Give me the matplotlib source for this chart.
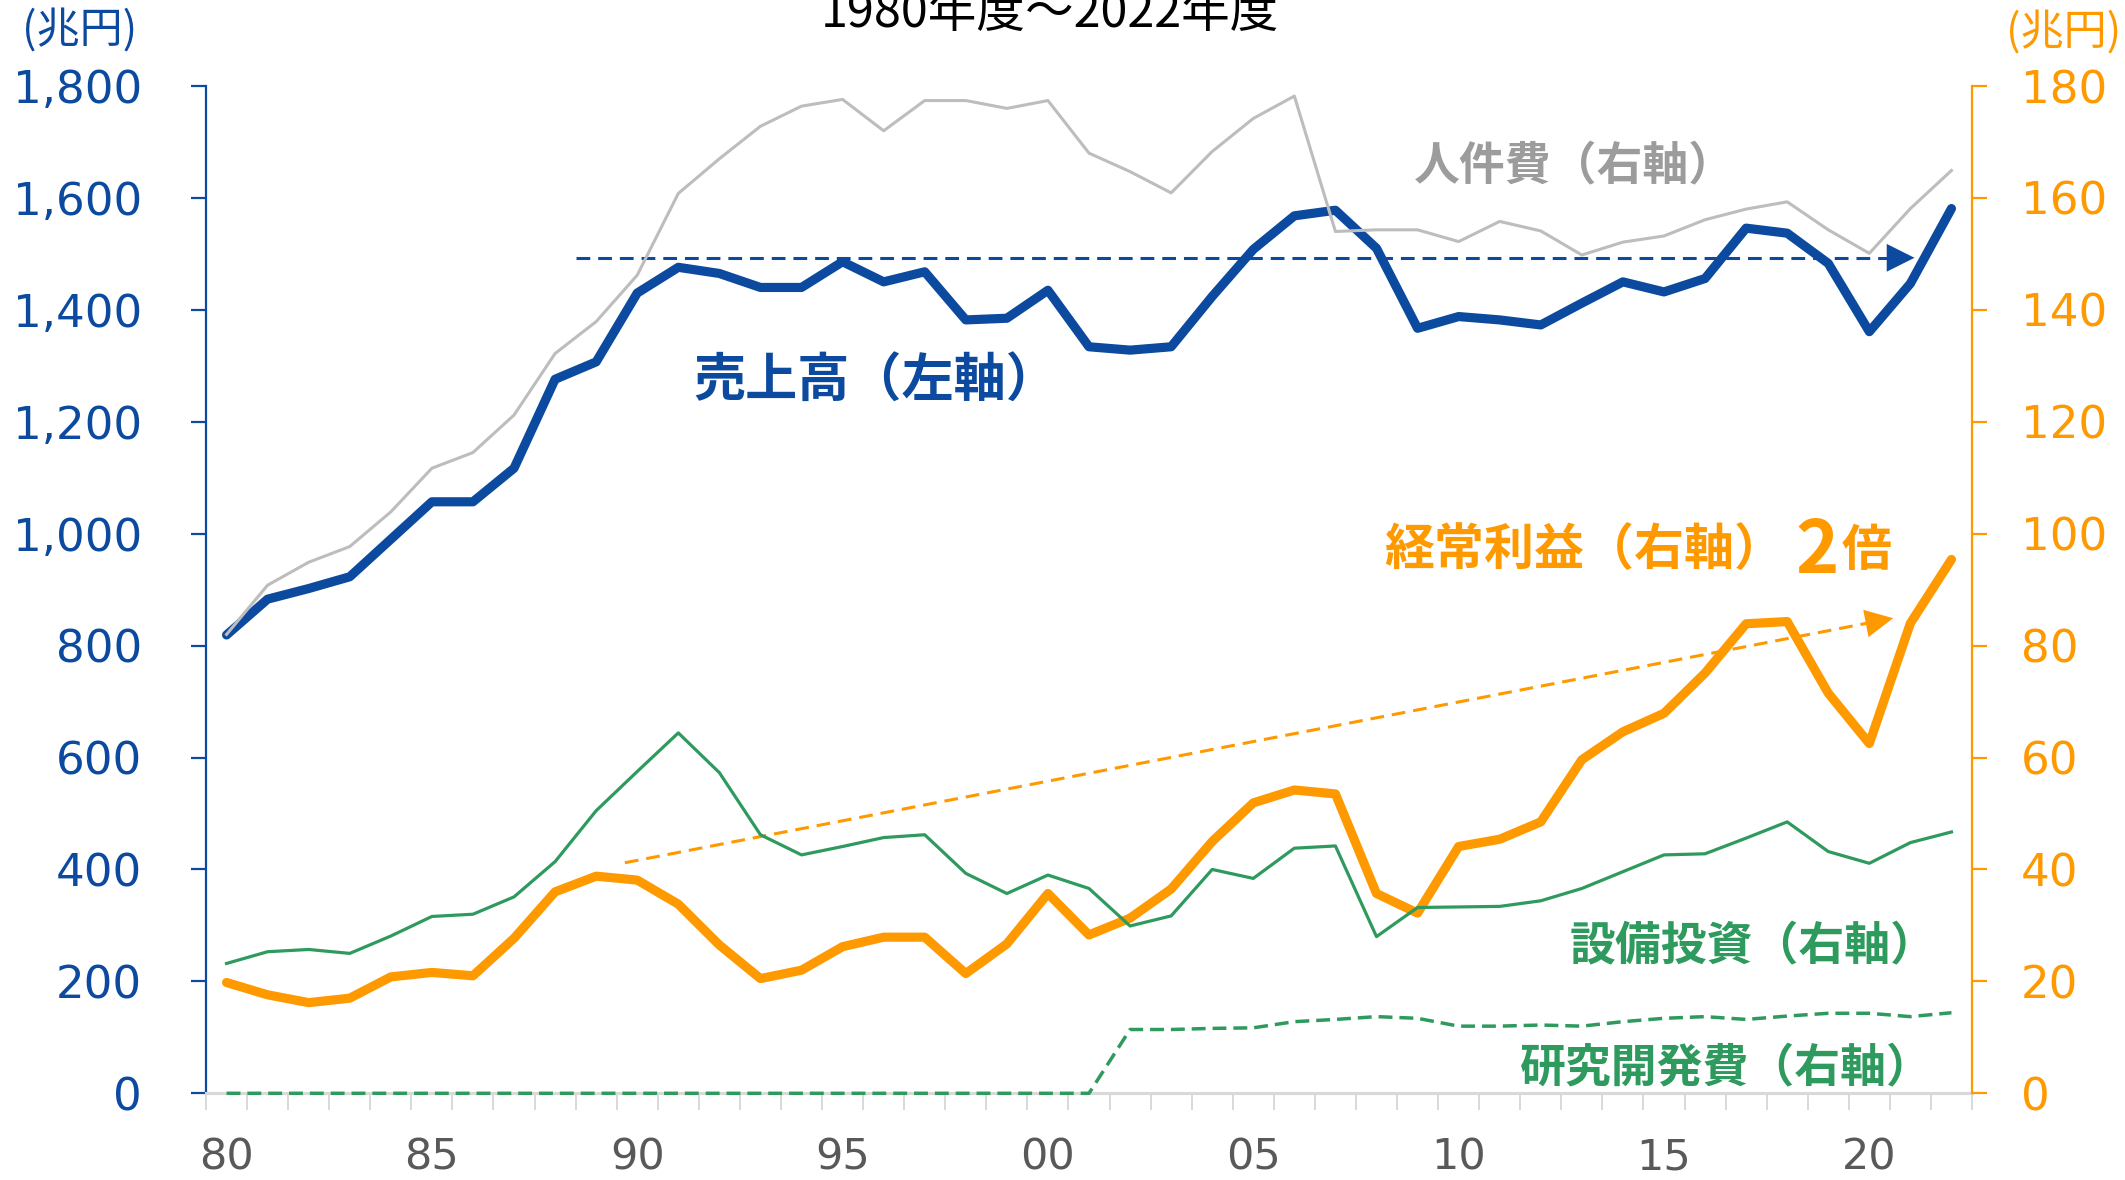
import matplotlib
matplotlib.use("Agg")
import matplotlib.pyplot as plt
from matplotlib.patches import ArrowStyle

# ---------------- data ----------------
years = list(range(1980, 2023))
xtick_labels = ["80", "85", "90", "95", "00", "05", "10", "15", "20"]

sales = [819, 883, 902, 923, 990, 1057, 1057, 1117, 1276, 1307, 1430, 1476, 1465, 1440,
         1440, 1486, 1450, 1468, 1382, 1385, 1435, 1334, 1328, 1334, 1424, 1508, 1568,
         1578, 1510, 1367, 1388, 1382, 1373, 1412, 1450, 1432, 1456, 1546, 1537, 1483,
         1361, 1447, 1581]

labor = [82.0, 90.8, 94.9, 97.7, 103.9, 111.7, 114.5, 121.2, 132.2, 137.9, 146.2, 160.8,
         167.0, 172.8, 176.4, 177.6, 172.0, 177.4, 177.4, 176.0, 177.4, 168.0, 164.7,
         160.9, 168.3, 174.2, 178.2, 154.0, 154.3, 154.3, 152.2, 155.8, 154.1, 149.8,
         152.1, 153.2, 156.1, 158.0, 159.3, 154.3, 150.1, 158.1, 164.9]

profit = [19.8, 17.6, 16.2, 17.0, 20.8, 21.6, 21.0, 27.7, 36.0, 38.8, 38.1, 33.8, 26.5,
          20.5, 22.0, 26.2, 27.9, 27.9, 21.4, 26.7, 35.7, 28.3, 31.3, 36.5, 45.0, 51.9,
          54.2, 53.5, 35.7, 32.2, 44.1, 45.4, 48.5, 59.6, 64.6, 67.9, 75.1, 83.9, 84.3,
          71.5, 62.5, 84.0, 95.4]

capex = [23.2, 25.3, 25.7, 25.0, 28.1, 31.6, 32.0, 35.1, 41.4, 50.5, 57.5, 64.4, 57.3,
         46.2, 42.6, 44.1, 45.7, 46.2, 39.3, 35.7, 39.0, 36.6, 29.9, 31.7, 40.0, 38.4,
         43.8, 44.2, 28.0, 33.2, 33.3, 33.4, 34.4, 36.6, 39.6, 42.6, 42.8, 45.6, 48.5,
         43.2, 41.1, 44.8, 46.7]

rnd = [0.0] * 22 + [11.4, 11.4, 11.6, 11.7, 12.8, 13.2, 13.7, 13.4, 12.0, 12.0, 12.2,
                    12.0, 12.8, 13.4, 13.7, 13.2, 13.8, 14.3, 14.3, 13.7, 14.4]

left_ticks = [0, 200, 400, 600, 800, 1000, 1200, 1400, 1600, 1800]
right_ticks = [0, 20, 40, 60, 80, 100, 120, 140, 160, 180]

# ---------------- style ----------------
BLUE = "#0B4A9E"
ORANGE = "#FF9900"
GREEN = "#2E9A5E"
GRAY_LINE = "#BDBDBD"
GRAY_TEXT = "#9C9C9C"
XLAB = "#595959"
JP = ["Noto Sans CJK JP", "DejaVu Sans"]

W, H = 2125, 1180
fig = plt.figure(figsize=(W / 100, H / 100), dpi=100)
fig.patch.set_facecolor("white")


def fx(x):
    return x / W


def fy(y):
    return 1 - y / H


ax = fig.add_axes([fx(206), fy(1093.3), (1972 - 206) / W, (1093.3 - 86) / H])
ax2 = ax.twinx()

idx = list(range(len(years)))

# left axis: sales
ax.plot(idx, sales, color=BLUE, lw=6.6, solid_joinstyle="round", solid_capstyle="round",
        zorder=3)

# right axis series
ax2.plot(idx, profit, color=ORANGE, lw=6.6, solid_joinstyle="round",
         solid_capstyle="round", zorder=3)
ax2.plot(idx, capex, color=GREEN, lw=2.3, solid_joinstyle="round", zorder=4)
ax2.plot(idx, rnd, color=GREEN, lw=2.5, ls=(0, (4.0, 2.0)), zorder=4, clip_on=False)
ax2.plot(idx, labor, color=GRAY_LINE, lw=2.2, solid_joinstyle="round", zorder=5)

# limits
ax.set_xlim(-0.5, len(years) - 0.5)
ax.set_ylim(0, 1800)
ax2.set_ylim(0, 180)

# spines
for s in ["top", "right"]:
    ax.spines[s].set_visible(False)
for s in ["top", "left", "bottom"]:
    ax2.spines[s].set_visible(False)
ax.spines["left"].set_color(BLUE)
ax.spines["left"].set_linewidth(1.6)
ax.spines["bottom"].set_color("#D9D9D9")
ax.spines["bottom"].set_linewidth(2.2)
ax2.spines["right"].set_color(ORANGE)
ax2.spines["right"].set_linewidth(1.6)

# y ticks
ax.set_yticks(left_ticks)
ax.set_yticklabels([f"{v:,}" for v in left_ticks])
ax.tick_params(axis="y", direction="out", length=11, width=1.6, colors=BLUE, pad=35,
               labelsize=32.5)
ax2.set_yticks(right_ticks)
ax2.set_yticklabels([str(v) for v in right_ticks])
ax2.tick_params(axis="y", direction="out", length=11, width=1.6, colors=ORANGE, pad=24,
                labelsize=32.5)

# x ticks
major = [i for i, y in enumerate(years) if y % 5 == 0]
ax.set_xticks(major)
ax.set_xticklabels(xtick_labels)
ax.set_xticks([i - 0.5 for i in range(len(years) + 1)], minor=True)
ax.tick_params(axis="x", which="major", length=0, pad=31, labelsize=31,
               labelcolor=XLAB)
ax.tick_params(axis="x", which="minor", length=12, width=1.1, color="#D0D0D0",
               direction="out")

for lab in ax.get_xticklabels() + ax.get_yticklabels() + ax2.get_yticklabels():
    lab.set_family("DejaVu Sans")

# ---------------- annotations ----------------
# blue dashed arrow (sales level)
blue_y = 1493
ax.plot([8.5, 40.6], [blue_y, blue_y], color=BLUE, lw=2.2, ls=(0, (4.5, 2.6)), zorder=2)
ax.annotate("", xy=(41.1, blue_y), xytext=(40.0, blue_y),
            arrowprops=dict(arrowstyle=ArrowStyle("-|>", head_length=2.0, head_width=1.0),
                            mutation_scale=10, color=BLUE, lw=0, shrinkA=0, shrinkB=0),
            zorder=2)

# orange dashed arrow (profit doubling)
o_start = (9.7, 41.2)
o_tip = (40.58, 84.9)
o_slope = (o_tip[1] - o_start[1]) / (o_tip[0] - o_start[0])
ax2.plot([o_start[0], o_tip[0] - 0.5], [o_start[1], o_tip[1] - 0.5 * o_slope],
         color=ORANGE, lw=2.2, ls=(0, (4.5, 2.6)), zorder=2)
back = 0.04
ax2.annotate("", xy=o_tip,
             xytext=(o_tip[0] - back * (o_tip[0] - o_start[0]),
                     o_tip[1] - back * (o_tip[1] - o_start[1])),
             arrowprops=dict(arrowstyle=ArrowStyle("-|>", head_length=2.0, head_width=1.0),
                             mutation_scale=10, color=ORANGE, lw=0, shrinkA=0, shrinkB=0),
             zorder=2)

# series labels
fig.text(fx(693), fy(380), "売上高（左軸）", color=BLUE, fontsize=37.5, fontweight="bold",
         family=JP, ha="left", va="center")
fig.text(fx(1414), fy(166), "人件費（右軸）", color=GRAY_TEXT, fontsize=33,
         fontweight="bold", family=JP, ha="left", va="center")
fig.text(fx(1384), fy(551), "経常利益（右軸）", color=ORANGE, fontsize=36,
         fontweight="bold", family=JP, ha="left", va="center")
fig.text(fx(1795), fy(573), "2", color=ORANGE, fontsize=53, fontweight="bold",
         family=JP, ha="left", va="baseline")
fig.text(fx(1842), fy(551), "倍", color=ORANGE, fontsize=36, fontweight="bold",
         family=JP, ha="left", va="center")
fig.text(fx(1937), fy(947), "設備投資（右軸）", color=GREEN, fontsize=33,
         fontweight="bold", family=JP, ha="right", va="center")
fig.text(fx(1933), fy(1068), "研究開発費（右軸）", color=GREEN, fontsize=33,
         fontweight="bold", family=JP, ha="right", va="center")

# units and title
fig.text(fx(22), fy(32), "(兆円)", color=BLUE, fontsize=31, family=JP, ha="left",
         va="center")
fig.text(fx(2006), fy(34), "(兆円)", color=ORANGE, fontsize=31, family=JP, ha="left",
         va="center")
fig.text(fx(1050), fy(27), "1980年度～2022年度", color="black", fontsize=35, family=JP,
         ha="center", va="baseline")

fig.savefig("out.png", dpi=100, facecolor="white")
